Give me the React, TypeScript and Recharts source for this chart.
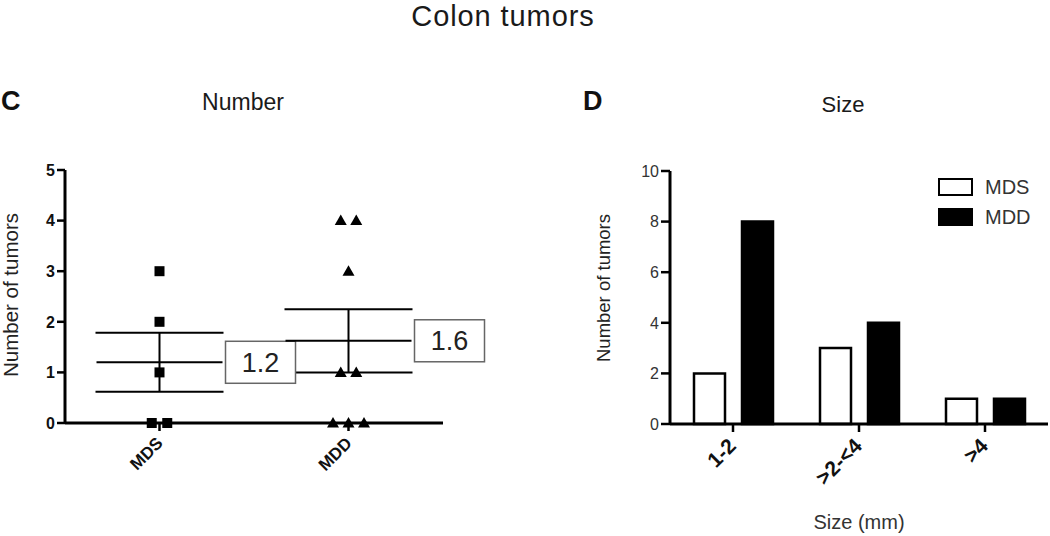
import React from 'react';
import { ScatterChart, Scatter, XAxis, YAxis, ErrorBar, BarChart, Bar, Legend } from 'recharts';

// ---- Panel C: Number of colon tumors per mouse ----
const groups = ['MDS', 'MDD'];
const mdsValues = [3, 2, 1, 0, 0];
const mddValues = [4, 4, 3, 1, 1, 0, 0, 0];
const numberTicks = [0, 1, 2, 3, 4, 5];

// ---- Panel D: Size distribution ----
const sizeCategories = ['1-2', '>2-<4', '>4'];
const sizeMDS = [2, 3, 1];
const sizeMDD = [8, 4, 1];
const sizeTicks = [0, 2, 4, 6, 8, 10];

const FONT = '"Liberation Sans", Arial, Helvetica, sans-serif';

function toPoints(values: number[], groupIndex: number) {
  const counts: Record<number, number> = {};
  values.forEach((v) => (counts[v] = (counts[v] || 0) + 1));
  const seen: Record<number, number> = {};
  return values.map((v) => {
    const k = seen[v] || 0;
    seen[v] = k + 1;
    return { x: groupIndex + 1, y: v, dodge: k - (counts[v] - 1) / 2 };
  });
}

function summary(values: number[], groupIndex: number) {
  const n = values.length;
  const mean = values.reduce((a, b) => a + b, 0) / n;
  const sd = Math.sqrt(values.reduce((a, b) => a + (b - mean) ** 2, 0) / (n - 1));
  return { x: groupIndex + 1, y: mean, sem: sd / Math.sqrt(n), label: mean.toFixed(1) };
}

const mdsPoints = toPoints(mdsValues, 0);
const mddPoints = toPoints(mddValues, 1);
const meanData = [summary(mdsValues, 0), summary(mddValues, 1)];

const sizeData = sizeCategories.map((c, i) => ({ size: c, MDS: sizeMDS[i], MDD: sizeMDD[i] }));

const DODGE = 15.5;

const SquareShape = (props: any) => {
  const { cx, cy, payload } = props;
  const x = cx + payload.dodge * DODGE;
  return <rect x={x - 5} y={cy - 5} width={10} height={10} fill="#000" />;
};

const TriangleShape = (props: any) => {
  const { cx, cy, payload } = props;
  const x = cx + payload.dodge * DODGE;
  return <polygon points={`${x},${cy - 6} ${x - 6},${cy + 4.5} ${x + 6},${cy + 4.5}`} fill="#000" />;
};

const MeanShape = (props: any) => {
  const { cx, cy, payload } = props;
  return (
    <g>
      <line x1={cx - 63} x2={cx + 63} y1={cy} y2={cy} stroke="#000" strokeWidth={2} />
      <rect x={cx + 66} y={cy - 21} width={70} height={42} fill="#fff" stroke="#666" strokeWidth={1.5} />
      <text x={cx + 101} y={cy} dy="0.36em" textAnchor="middle" fontSize={27} fill="#222" fontFamily={FONT}>
        {payload.label}
      </text>
    </g>
  );
};

const makeXTick = (labels: string[] | null, fontSize: number, dx: number, dy: number) => (props: any) => {
  const { x, y, payload } = props;
  const label = labels ? labels[payload.value - 1] : payload.value;
  return (
    <g transform={`translate(${x + dx},${y + dy})`}>
      <text textAnchor="end" transform="rotate(-45)" dy="0.36em" fontSize={fontSize} fontWeight="bold" fill="#111" fontFamily={FONT}>
        {label}
      </text>
    </g>
  );
};

const makeYTick = (fontSize: number, bold: boolean, fill: string) => (props: any) => {
  const { x, y, payload } = props;
  return (
    <text x={x} y={y} dy="0.36em" textAnchor="end" fontSize={fontSize} fontWeight={bold ? 'bold' : 'normal'} fill={fill} fontFamily={FONT}>
      {payload.value}
    </text>
  );
};

const LegendContent = () => (
  <div style={{ fontFamily: FONT }}>
    {[
      { name: 'MDS', fill: '#fff' },
      { name: 'MDD', fill: '#000' },
    ].map((e) => (
      <div key={e.name} style={{ display: 'flex', alignItems: 'center', height: 30 }}>
        <div style={{ width: 31, height: 14, border: '2.5px solid #000', background: e.fill }} />
        <span style={{ marginLeft: 12, fontSize: 20, color: '#333' }}>{e.name}</span>
      </div>
    ))}
  </div>
);

export default function App() {
  return (
    <div style={{ position: 'absolute', left: 0, top: 0, width: 1050, height: 536, background: '#fff', fontFamily: FONT }}>
      <div style={{ position: 'absolute', left: 0, top: 0 }}>
        <ScatterChart width={500} height={536} margin={{ top: 170, right: 57, bottom: 53, left: 20 }}>
          <XAxis
            type="number"
            dataKey="x"
            domain={[0.5, 2.5]}
            ticks={[1, 2]}
            height={60}
            axisLine={{ stroke: '#000', strokeWidth: 3 }}
            tickLine={{ stroke: '#000', strokeWidth: 2.5 }}
            tickSize={8}
            tick={makeXTick(groups, 17, 0, 7)}
            interval={0}
          />
          <YAxis
            type="number"
            dataKey="y"
            domain={[0, 5]}
            ticks={numberTicks}
            width={45}
            axisLine={{ stroke: '#000', strokeWidth: 3 }}
            tickLine={{ stroke: '#000', strokeWidth: 2.5 }}
            tickSize={8}
            tick={makeYTick(16, true, '#111')}
          />
          <Scatter data={meanData} shape={MeanShape} isAnimationActive={false}>
            <ErrorBar dataKey="sem" direction="y" width={64} stroke="#000" strokeWidth={2} isAnimationActive={false} />
          </Scatter>
          <Scatter data={mdsPoints} shape={SquareShape} isAnimationActive={false} />
          <Scatter data={mddPoints} shape={TriangleShape} isAnimationActive={false} />
        </ScatterChart>
      </div>

      <div style={{ position: 'absolute', left: 540, top: 0 }}>
        <BarChart
          width={510}
          height={536}
          data={sizeData}
          margin={{ top: 171, right: 2, bottom: 52, left: 90 }}
          barGap={17}
          barSize={31}
        >
          <XAxis
            dataKey="size"
            height={60}
            interval={0}
            axisLine={{ stroke: '#000', strokeWidth: 3 }}
            tickLine={{ stroke: '#000', strokeWidth: 2.5 }}
            tickSize={8}
            tick={makeXTick(null, 21, -1, 8)}
          />
          <YAxis
            type="number"
            domain={[0, 10]}
            ticks={sizeTicks}
            width={40}
            axisLine={{ stroke: '#000', strokeWidth: 3 }}
            tickLine={{ stroke: '#000', strokeWidth: 2.5 }}
            tickSize={9}
            tick={makeYTick(16, false, '#333')}
          />
          <Legend
            layout="vertical"
            align="center"
            verticalAlign="middle"
            content={LegendContent}
            wrapperStyle={{ left: 398, top: 172, width: 120 }}
          />
          <Bar dataKey="MDS" fill="#fff" stroke="#000" strokeWidth={2.5} isAnimationActive={false} />
          <Bar dataKey="MDD" fill="#000" stroke="#000" strokeWidth={2.5} isAnimationActive={false} />
        </BarChart>
      </div>

      <svg width={1050} height={536} style={{ position: 'absolute', left: 0, top: 0, pointerEvents: 'none' }} fontFamily={FONT}>
        <text x={503} y={26} textAnchor="middle" fontSize={29} fill="#1a1a1a" letterSpacing={0.9}>Colon tumors</text>
        <text x={1} y={110} fontSize={27} fontWeight="bold" fill="#111">C</text>
        <text x={243} y={110} textAnchor="middle" fontSize={23} fill="#1a1a1a">Number</text>
        <text x={583} y={110} fontSize={27} fontWeight="bold" fill="#111">D</text>
        <text x={843} y={112} textAnchor="middle" fontSize={22} fill="#1a1a1a">Size</text>
        <text x={859} y={529} textAnchor="middle" fontSize={20} fill="#333">Size (mm)</text>
        <text transform="translate(17.5,295) rotate(-90)" textAnchor="middle" fontSize={20.5} fill="#222">Number of tumors</text>
        <text transform="translate(610,288) rotate(-90)" textAnchor="middle" fontSize={18.5} fill="#222">Number of tumors</text>
      </svg>
    </div>
  );
}
